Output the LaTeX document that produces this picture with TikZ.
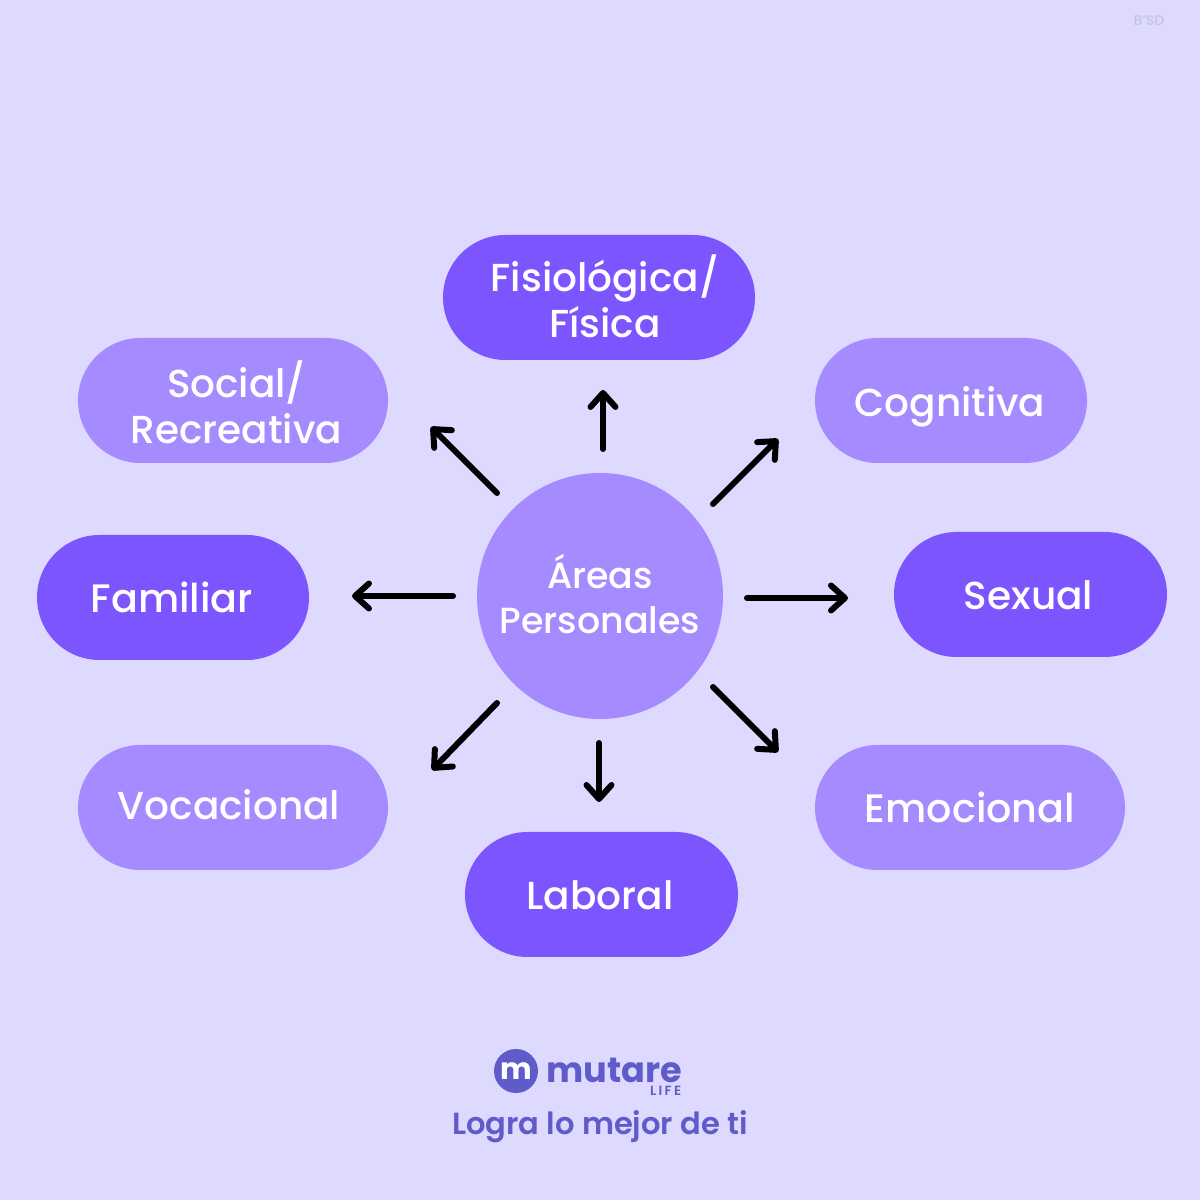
\documentclass[tikz,border=0pt]{standalone}
\usepackage{fontspec}
\setmainfont{Poppins}[UprightFont=* Medium,BoldFont=* SemiBold]
\newfontfamily\brandfont{Poppins}[UprightFont=* Bold]
\usetikzlibrary{arrows.meta,shapes.misc}
\definecolor{backcol}{HTML}{DDD9FF}
\definecolor{darkpill}{HTML}{7C55FF}
\definecolor{lightpill}{HTML}{A58BFF}
\definecolor{brandcol}{HTML}{5F5BC9}
\definecolor{markcol}{HTML}{C6C5DE}
\tikzset{
         pill/.style={rounded rectangle,minimum height=1.25cm,inner sep=0pt},
         pilldark/.style={pill,fill=darkpill},
         pilllight/.style={pill,fill=lightpill},
         pilltext/.style={inner sep=0pt,text=white,align=center,font=\fontsize{11.1}{13}\selectfont},
         arrowline/.style={line width=.06cm,line cap=round,-{Straight Barb[length=.14cm,width=.25cm,line width=.06cm,round]}}
        }
\begin{document}
\begin{tikzpicture}
\useasboundingbox[fill=backcol](0,0)rectangle(12,12);
%center
\node[circle,fill=lightpill,minimum size=2.46cm,inner sep=0pt](areas)at(6,6.04){};
%pills
\node[pilldark,minimum width=3.12cm](fisica)at(5.99,9.025){};
\node[pilllight,minimum width=2.72cm](cognitiva)at(9.51,7.995){};
\node[pilldark,minimum width=2.73cm](sexual)at(10.305,6.055){};
\node[pilllight,minimum width=3.1cm](emocional)at(9.7,3.925){};
\node[pilldark,minimum width=2.73cm](laboral)at(6.015,3.055){};
\node[pilllight,minimum width=3.1cm](vocacional)at(2.33,3.925){};
\node[pilldark,minimum width=2.72cm](familiar)at(1.73,6.025){};
\node[pilllight,minimum width=3.1cm](social)at(2.33,7.995){};
%arrows
\foreach \name/\x/\y/\u/\v in {up/6.03/7.51/6.03/8.1,upright/7.13/6.96/7.78/7.61,right/7.47/6.02/8.48/6.02,
downright/7.13/5.13/7.78/4.48,down/5.99/4.57/5.99/3.98,downleft/4.97/4.97/4.32/4.3,left/4.53/6.04/3.52/6.04,upleft/4.97/7.07/4.31/7.73}{
\coordinate(\name from)at(\x,\y);
\coordinate(\name to)at(\u,\v);
\draw[arrowline](\name from)--(\name to);
}
%labels
\node[pilltext,font=\fontsize{10.35}{12.8}\selectfont](areaslabel)at(6,6.06){Áreas\\Personales};
\node[pilltext](fisicalabel)at(6.05,9.04){Fisiológica/\\Física};
\node[pilltext](cognitivalabel)at(9.5,7.93){Cognitiva};
\node[pilltext](sexuallabel)at(10.285,6.045){Sexual};
\node[pilltext,font=\fontsize{11.3}{13}\selectfont](emocionallabel)at(9.7,3.925){Emocional};
\node[pilltext](laborallabel)at(6,3.045){Laboral};
\node[pilltext](vocacionallabel)at(2.29,3.955){Vocacional};
\node[pilltext,font=\fontsize{11.3}{13}\selectfont](familiarlabel)at(1.72,6.025){Familiar};
\node[pilltext](sociallabel)at(2.365,7.975){Social/\\Recreativa};
%logo
\node[circle,fill=brandcol,minimum size=.44cm,inner sep=0pt,text=white,font=\fontsize{8.5}{9}\brandfont](logo)at(5.16,1.29){m};
\node[anchor=base west,inner sep=0pt,text=brandcol,font=\fontsize{10}{12}\brandfont](mutare)at(5.46,1.18){mutare};
\node[anchor=north east,inner sep=0pt,text=brandcol,font=\fontsize{3.8}{4}\bfseries\addfontfeature{LetterSpace=18}](life)at(6.82,1.15){LIFE};
\node[inner sep=0pt,text=brandcol,font=\fontsize{8.7}{10}\bfseries](tagline)at(6,.73){Logra lo mejor de ti};
\node[inner sep=0pt,text=markcol,font=\fontsize{4}{5}\selectfont](bsd)at(11.49,11.79){B'SD};
\end{tikzpicture}
\end{document}
